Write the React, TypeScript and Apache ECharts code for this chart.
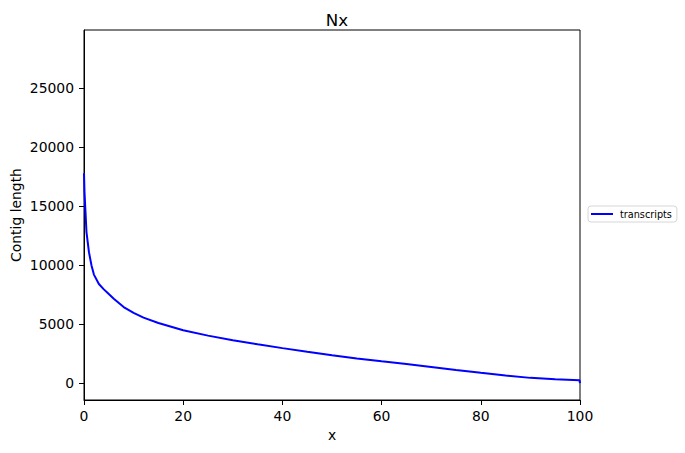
import { useEffect, useRef } from 'react'
import * as echarts from 'echarts'

// Nx 曲线: x 百分比 -> contig 长度
const nxPercent = [
  0, 0.1, 0.3, 0.5, 1, 1.5, 2, 3, 4, 5, 6, 8, 10, 12, 15, 20, 25, 30, 35, 40,
  45, 50, 55, 60, 65, 70, 75, 80, 85, 90, 95, 99.9, 100,
]
const contigLength = [
  17800, 16200, 14500, 12800, 11100, 10000, 9200, 8400, 7950, 7550, 7150, 6450,
  5950, 5550, 5100, 4480, 4030, 3640, 3290, 2970, 2660, 2370, 2100, 1850, 1620,
  1370, 1120, 880, 650, 450, 330, 250, 0,
]
const xTicks = [0, 20, 40, 60, 80, 100]
const yTicks = [0, 5000, 10000, 15000, 20000, 25000]
const seriesName = 'transcripts'

const FONT = '"DejaVu Sans", sans-serif'

export default function App() {
  const ref = useRef<HTMLDivElement>(null)

  useEffect(() => {
    if (!ref.current) return
    const chart = echarts.init(ref.current, undefined, { renderer: 'svg' })
    chart.setOption({
      animation: false,
      textStyle: { fontFamily: FONT },
      title: {
        text: 'Nx',
        left: 332,
        top: 6,
        textAlign: 'center',
        textStyle: { fontFamily: FONT, fontSize: 16.7, fontWeight: 'normal', color: '#000' },
      },
      legend: {
        data: [seriesName],
        left: 588,
        top: 206,
        orient: 'vertical',
        itemWidth: 22,
        itemHeight: 10,
        itemGap: 4,
        padding: [3, 5, 3, 3],
        borderColor: '#d6d6d6',
        borderWidth: 1,
        borderRadius: 3,
        icon: 'path://M0,0 L22,0 L22,2 L0,2 Z',
        textStyle: { fontFamily: FONT, fontSize: 9.7, color: '#000', padding: [0, 0, 0, 2] },
      },
      grid: {
        left: 84,
        right: 105,
        top: 30,
        bottom: 53,
        outerBoundsMode: 'none',
        containLabel: false,
        show: true,
        borderColor: '#000',
        borderWidth: 1,
      },
      xAxis: {
        type: 'value',
        min: 0,
        max: 100,
        name: 'x',
        nameLocation: 'middle',
        nameGap: 28,
        nameMoveOverlap: false,
        nameTextStyle: { fontFamily: FONT, fontSize: 13.9, color: '#000' },
        axisLine: { show: true, onZero: false, lineStyle: { color: '#000', width: 1 } },
        axisTick: { show: true, inside: false, length: 5, lineStyle: { color: '#000' }, customValues: xTicks },
        axisLabel: {
          fontFamily: FONT,
          fontSize: 13.9,
          color: '#000',
          margin: 9,
          customValues: xTicks,
          formatter: (v: number) => String(v),
        },
        splitLine: { show: false },
      },
      yAxis: {
        type: 'value',
        min: -1425,
        max: 29925,
        name: 'Contig length',
        nameLocation: 'middle',
        nameGap: 61,
        nameMoveOverlap: false,
        nameTextStyle: { fontFamily: FONT, fontSize: 13.9, color: '#000' },
        axisLine: { show: true, onZero: false, lineStyle: { color: '#000', width: 1 } },
        axisTick: { show: true, inside: false, length: 5, lineStyle: { color: '#000' }, customValues: yTicks },
        axisLabel: {
          fontFamily: FONT,
          fontSize: 13.9,
          color: '#000',
          margin: 10,
          customValues: yTicks,
          formatter: (v: number) => String(v),
        },
        splitLine: { show: false },
      },
      series: [
        {
          name: seriesName,
          type: 'line',
          data: nxPercent.map((x, i) => [x, contigLength[i]]),
          showSymbol: false,
          color: '#0000ff',
          lineStyle: { color: '#0000ff', width: 2 },
        },
      ],
    })
    return () => chart.dispose()
  }, [])

  return (
    <div
      ref={ref}
      style={{ position: 'fixed', left: 0, top: 0, width: 685, height: 453, background: '#fff' }}
    />
  )
}
